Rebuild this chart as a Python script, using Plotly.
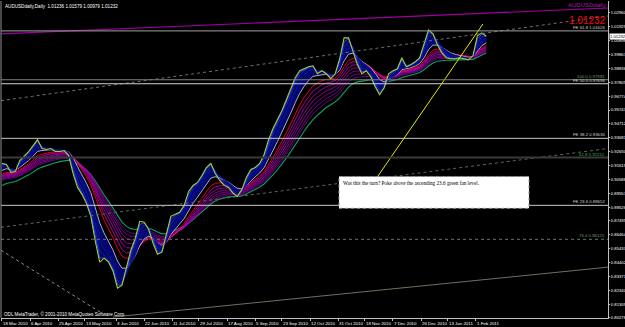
import plotly.graph_objects as go
import pandas as pd

# ---------------- data ----------------
start_date = "2010-03-18"
step_days = 3
close = [
    0.91765, 0.91691, 0.91098, 0.91172, 0.91987, 0.92284, 0.92655, 0.93099, 0.93544, 0.92877,
    0.92803, 0.92877, 0.92655, 0.92655, 0.92729, 0.92358, 0.91024, 0.89986, 0.89467, 0.88799,
    0.87835, 0.85982, 0.84425, 0.84722, 0.84425, 0.83758, 0.82497, 0.82720, 0.83980, 0.85315,
    0.86204, 0.87465, 0.87391, 0.86872, 0.85834, 0.85018, 0.85166, 0.86575, 0.87835, 0.87984,
    0.88132, 0.88651, 0.89689, 0.90134, 0.90356, 0.90875, 0.91468, 0.91765, 0.91024, 0.90505,
    0.90134, 0.89986, 0.89541, 0.89318, 0.89837, 0.90727, 0.91320, 0.91468, 0.91765, 0.92432,
    0.93544, 0.94360, 0.95027, 0.95694, 0.96510, 0.97325, 0.98141, 0.98660, 0.98808, 0.98956,
    0.99031, 0.98438, 0.98660, 0.98438, 0.98067, 0.98438, 0.99550, 1.01107, 1.01107, 1.00143,
    0.99105, 0.98438, 0.98660, 0.98215, 0.97474, 0.96881, 0.97400, 0.98438, 0.98660, 0.98808,
    0.99624, 0.98956, 0.99105, 0.99327, 0.99624, 1.00662, 1.01700, 1.01403, 1.00588, 0.99994,
    0.99624, 0.99550, 0.99550, 0.99624, 0.99550, 0.99475, 0.99772, 1.01255, 1.01477, 1.01232,
]

# GMMA-style moving averages (periods in bars) and their values at the left edge
fast_spans = [3, 5, 8, 10, 12]
fast_seed = [0.9176, 0.9170, 0.9160, 0.9150, 0.9140]
white_span, white_seed = 15, 0.9125
red_span, red_seed = 22, 0.9095
slow_spans = [26, 30, 34, 38, 42, 46]
slow_seed = [0.90875, 0.9080, 0.9073, 0.9065, 0.9058, 0.9050]
green_span, green_seed = 52, 0.9013
bars_per_sample = 3 * 6 / 7

y_tick_labels = ["1.02960", "1.01929", "1.00898", "0.99867", "0.98836", "0.97805", "0.96774",
                 "0.95743", "0.94712", "0.93681", "0.92650", "0.91619", "0.90588", "0.89557",
                 "0.88526", "0.87495", "0.86464", "0.85433", "0.84402", "0.83371", "0.82340",
                 "0.81309", "0.80278"]

x_tick_dates = ["2010-03-18", "2010-04-06", "2010-04-25", "2010-05-13", "2010-06-03", "2010-06-22",
                "2010-07-11", "2010-07-29", "2010-08-17", "2010-09-05", "2010-09-23", "2010-10-12",
                "2010-10-31", "2010-11-18", "2010-12-07", "2010-12-26", "2011-01-13", "2011-02-01"]
x_tick_text = ["18 Mar 2010", "6 Apr 2010", "25 Apr 2010", "13 May 2010", "3 Jun 2010", "22 Jun 2010",
               "11 Jul 2010", "29 Jul 2010", "17 Aug 2010", "5 Sep 2010", "23 Sep 2010", "12 Oct 2010",
               "31 Oct 2010", "18 Nov 2010", "7 Dec 2010", "26 Dec 2010", "13 Jan 2011", "1 Feb 2011"]

# horizontal levels
level_values = [1.01626, 0.97993, 0.97696, 0.93636, 0.92210, 0.88652, 0.86125]
level_labels = ["FE 61.8 1.01626", "100.0 0.97993", "FE 50.0 0.97696", "FE 38.2 0.93636",
                "61.8 0.92210", "FE 23.6 0.88652", "76.4 0.86125"]

# trend lines (date, price anchors)
magenta_dates = ["2010-03-17 08:00", "2011-05-01 05:00"]
magenta_prices = [1.01403, 1.03331]
upper_dates = ["2010-03-17 08:00", "2011-05-01 05:00"]
upper_prices = [0.96436, 1.02738]
fan_dates = ["2010-03-17 08:00", "2011-05-01 05:00"]
fan_prices = [0.87020, 0.92878]
bottom_dates = ["2010-06-01", "2011-05-01 05:00"]
bottom_prices = [0.80347, 0.84054]
dotted_dates = ["2010-03-17 08:00", "2010-05-23 05:00"]
dotted_prices = [0.85315, 0.80718]
yellow_dates = ["2010-11-26 05:00", "2011-02-05 19:00"]
yellow_prices = [0.90727, 1.02145]

title_text = "AUDUSDdaily,Daily  1.01236 1.01579 1.00979 1.01232"
symbol_text = "AUDUSDdaily"
last_price = 1.01232
note_text = "Was this the turn? Poke above the ascending 23.6 green fan level."
copyright_text = "ODL MetaTrader, \u00a9 2001-2010 MetaQuotes Software Corp."

# ---------------- figure ----------------
dates = pd.date_range(start_date, periods=len(close), freq=f"{step_days}D")


def ema(values, span, seed):
    a = 1 - (1 - 2.0 / (span + 1)) ** bars_per_sample
    out = [seed]
    e = seed
    for v in values[1:]:
        e = e + a * (v - e)
        out.append(e)
    return out


fig = go.Figure()


def add_line(x, y, color, width=1, dash="solid", fill=None, fillcolor=None):
    fig.add_trace(go.Scatter(x=x, y=y, mode="lines", line=dict(color=color, width=width, dash=dash),
                             fill=fill, fillcolor=fillcolor, hoverinfo="skip", showlegend=False))


# slow ribbon
add_line(dates, ema(close, green_span, green_seed), "#10a060", 1.1)
slow_colors = ["#d000c8", "#c000c0", "#b000b8", "#a000b0", "#9000a8", "#8000a0"]
for s, sd, c in reversed(list(zip(slow_spans, slow_seed, slow_colors))):
    add_line(dates, ema(close, s, sd), c, 0.8)
add_line(dates, ema(close, red_span, red_seed), "#e80010", 1.0)

# fast ribbon with fill
white = ema(close, white_span, white_seed)
add_line(dates, white, "#c0c0e0", 0.9)
fast = [ema(close, s, sd) for s, sd in zip(fast_spans, fast_seed)]
add_line(dates, fast[0], "#2848f0", 1, fill="tonexty", fillcolor="rgba(4,4,105,0.95)")
fast_colors = ["#2848f0", "#1428c8", "#0c18a8", "#081090", "#060c80"]
for f, c in zip(fast[1:], fast_colors[1:]):
    add_line(dates, f, c, 0.8)

# price
add_line(dates, close, "#a8d030", 1.1)

# trend lines
add_line(magenta_dates, magenta_prices, "#a000a0", 1.2)
add_line(upper_dates, upper_prices, "#707070", 1, "dot")
add_line(fan_dates, fan_prices, "#5a6a5a", 1, "dot")
add_line(bottom_dates, bottom_prices, "#707060", 1)
add_line(dotted_dates, dotted_prices, "#909090", 1, "dot")
add_line(yellow_dates, yellow_prices, "#e8e800", 1)

shapes = []
level_styles = [("#a0a0a0", 1, "solid"), ("#808080", 1, "solid"), ("#d0d0d0", 1, "solid"),
                ("#c8c8c8", 1, "solid"), ("#3a3a3a", 2, "solid"), ("#c8c8c8", 1, "solid"),
                ("#707070", 1, "dot")]
label_colors = ["#d0d0d0", "#6a9a6a", "#d0d0d0", "#d0d0d0", "#4aa04a", "#d0d0d0", "#6a9a6a"]
annotations = []
for v, lab, (c, w, d), lc in zip(level_values, level_labels, level_styles, label_colors):
    shapes.append(dict(type="line", xref="paper", x0=0, x1=1, yref="y", y0=v, y1=v,
                       line=dict(color=c, width=w, dash=d), layer="above"))
    annotations.append(dict(text=lab, xref="paper", x=0.998, yref="y", y=v, xanchor="right",
                            yanchor="bottom", showarrow=False, yshift=-1,
                            font=dict(family="Liberation Sans", size=4.3, color=lc)))

# date labels (MetaTrader style: text starts at the tick)
for d, t in zip(x_tick_dates, x_tick_text):
    annotations.append(dict(text=t, xref="x", x=d, yref="paper", y=-0.016, xanchor="left",
                            yanchor="middle", showarrow=False, xshift=-1,
                            font=dict(family="Liberation Sans", size=4.4, color="white")))

# left border
shapes.append(dict(type="line", xref="paper", x0=0, x1=0, yref="paper", y0=0, y1=1,
                   line=dict(color="#909090", width=1)))

# note box
shapes.append(dict(type="rect", xref="paper", yref="paper", x0=0.5568, x1=0.8699, y0=0.346, y1=0.4465,
                   fillcolor="white", line=dict(color="#909090", width=1, dash="dot"), layer="above"))
annotations.append(dict(text=note_text, xref="paper", yref="paper", x=0.5601, y=0.4420,
                        xanchor="left", yanchor="top", showarrow=False,
                        font=dict(family="Liberation Serif", size=5.2, color="black")))

annotations.append(dict(text=title_text, xref="paper", yref="paper", x=0.004, y=0.997,
                        xanchor="left", yanchor="top", showarrow=False,
                        font=dict(family="Liberation Sans", size=4.6, color="white")))
annotations.append(dict(text=copyright_text, xref="paper", yref="paper", x=0.002, y=0.0126,
                        xanchor="left", yanchor="middle", showarrow=False,
                        font=dict(family="Liberation Sans", size=4.6, color="white")))
annotations.append(dict(text=symbol_text, xref="paper", yref="paper", x=1.0, y=0.986,
                        xanchor="right", yanchor="middle", showarrow=False,
                        font=dict(family="Liberation Sans", size=6, color="#a020a0")))
annotations.append(dict(text=f"{last_price:.5f}", xref="paper", yref="paper", x=1.0, y=0.94,
                        xanchor="right", yanchor="middle", showarrow=False,
                        font=dict(family="Liberation Sans", size=10, color="#ff0000")))
annotations.append(dict(text=f"{last_price:.5f}", xref="paper", yref="y", x=1.0, y=last_price,
                        xanchor="left", yanchor="middle", showarrow=False, xshift=1,
                        bgcolor="white", borderpad=0,
                        font=dict(family="Liberation Sans", size=4.2, color="black")))

y_tick_vals = [float(t) for t in y_tick_labels]

fig.update_layout(
    width=625, height=327,
    margin=dict(l=1, r=17, t=1, b=9),
    paper_bgcolor="black", plot_bgcolor="black",
    showlegend=False,
    shapes=shapes, annotations=annotations,
    xaxis=dict(type="date", range=["2010-03-17 08:00", "2011-05-01 05:00"],
               tickvals=x_tick_dates, showticklabels=False,
               ticks="outside", ticklen=2, tickcolor="#c0c0c0",
               showgrid=False, zeroline=False, showline=True, linecolor="#c0c0c0", linewidth=1,
               automargin=False),
    yaxis=dict(side="right", range=[0.80273, 1.03850], tickvals=y_tick_vals, ticktext=y_tick_labels,
               ticks="outside", ticklen=1, tickcolor="#c0c0c0", ticklabelstandoff=0,
               showgrid=False, zeroline=False, showline=True, linecolor="#c0c0c0", linewidth=1,
               automargin=False,
               tickfont=dict(family="Liberation Sans", size=4.2, color="white")),
)

fig.write_html("out.html")
